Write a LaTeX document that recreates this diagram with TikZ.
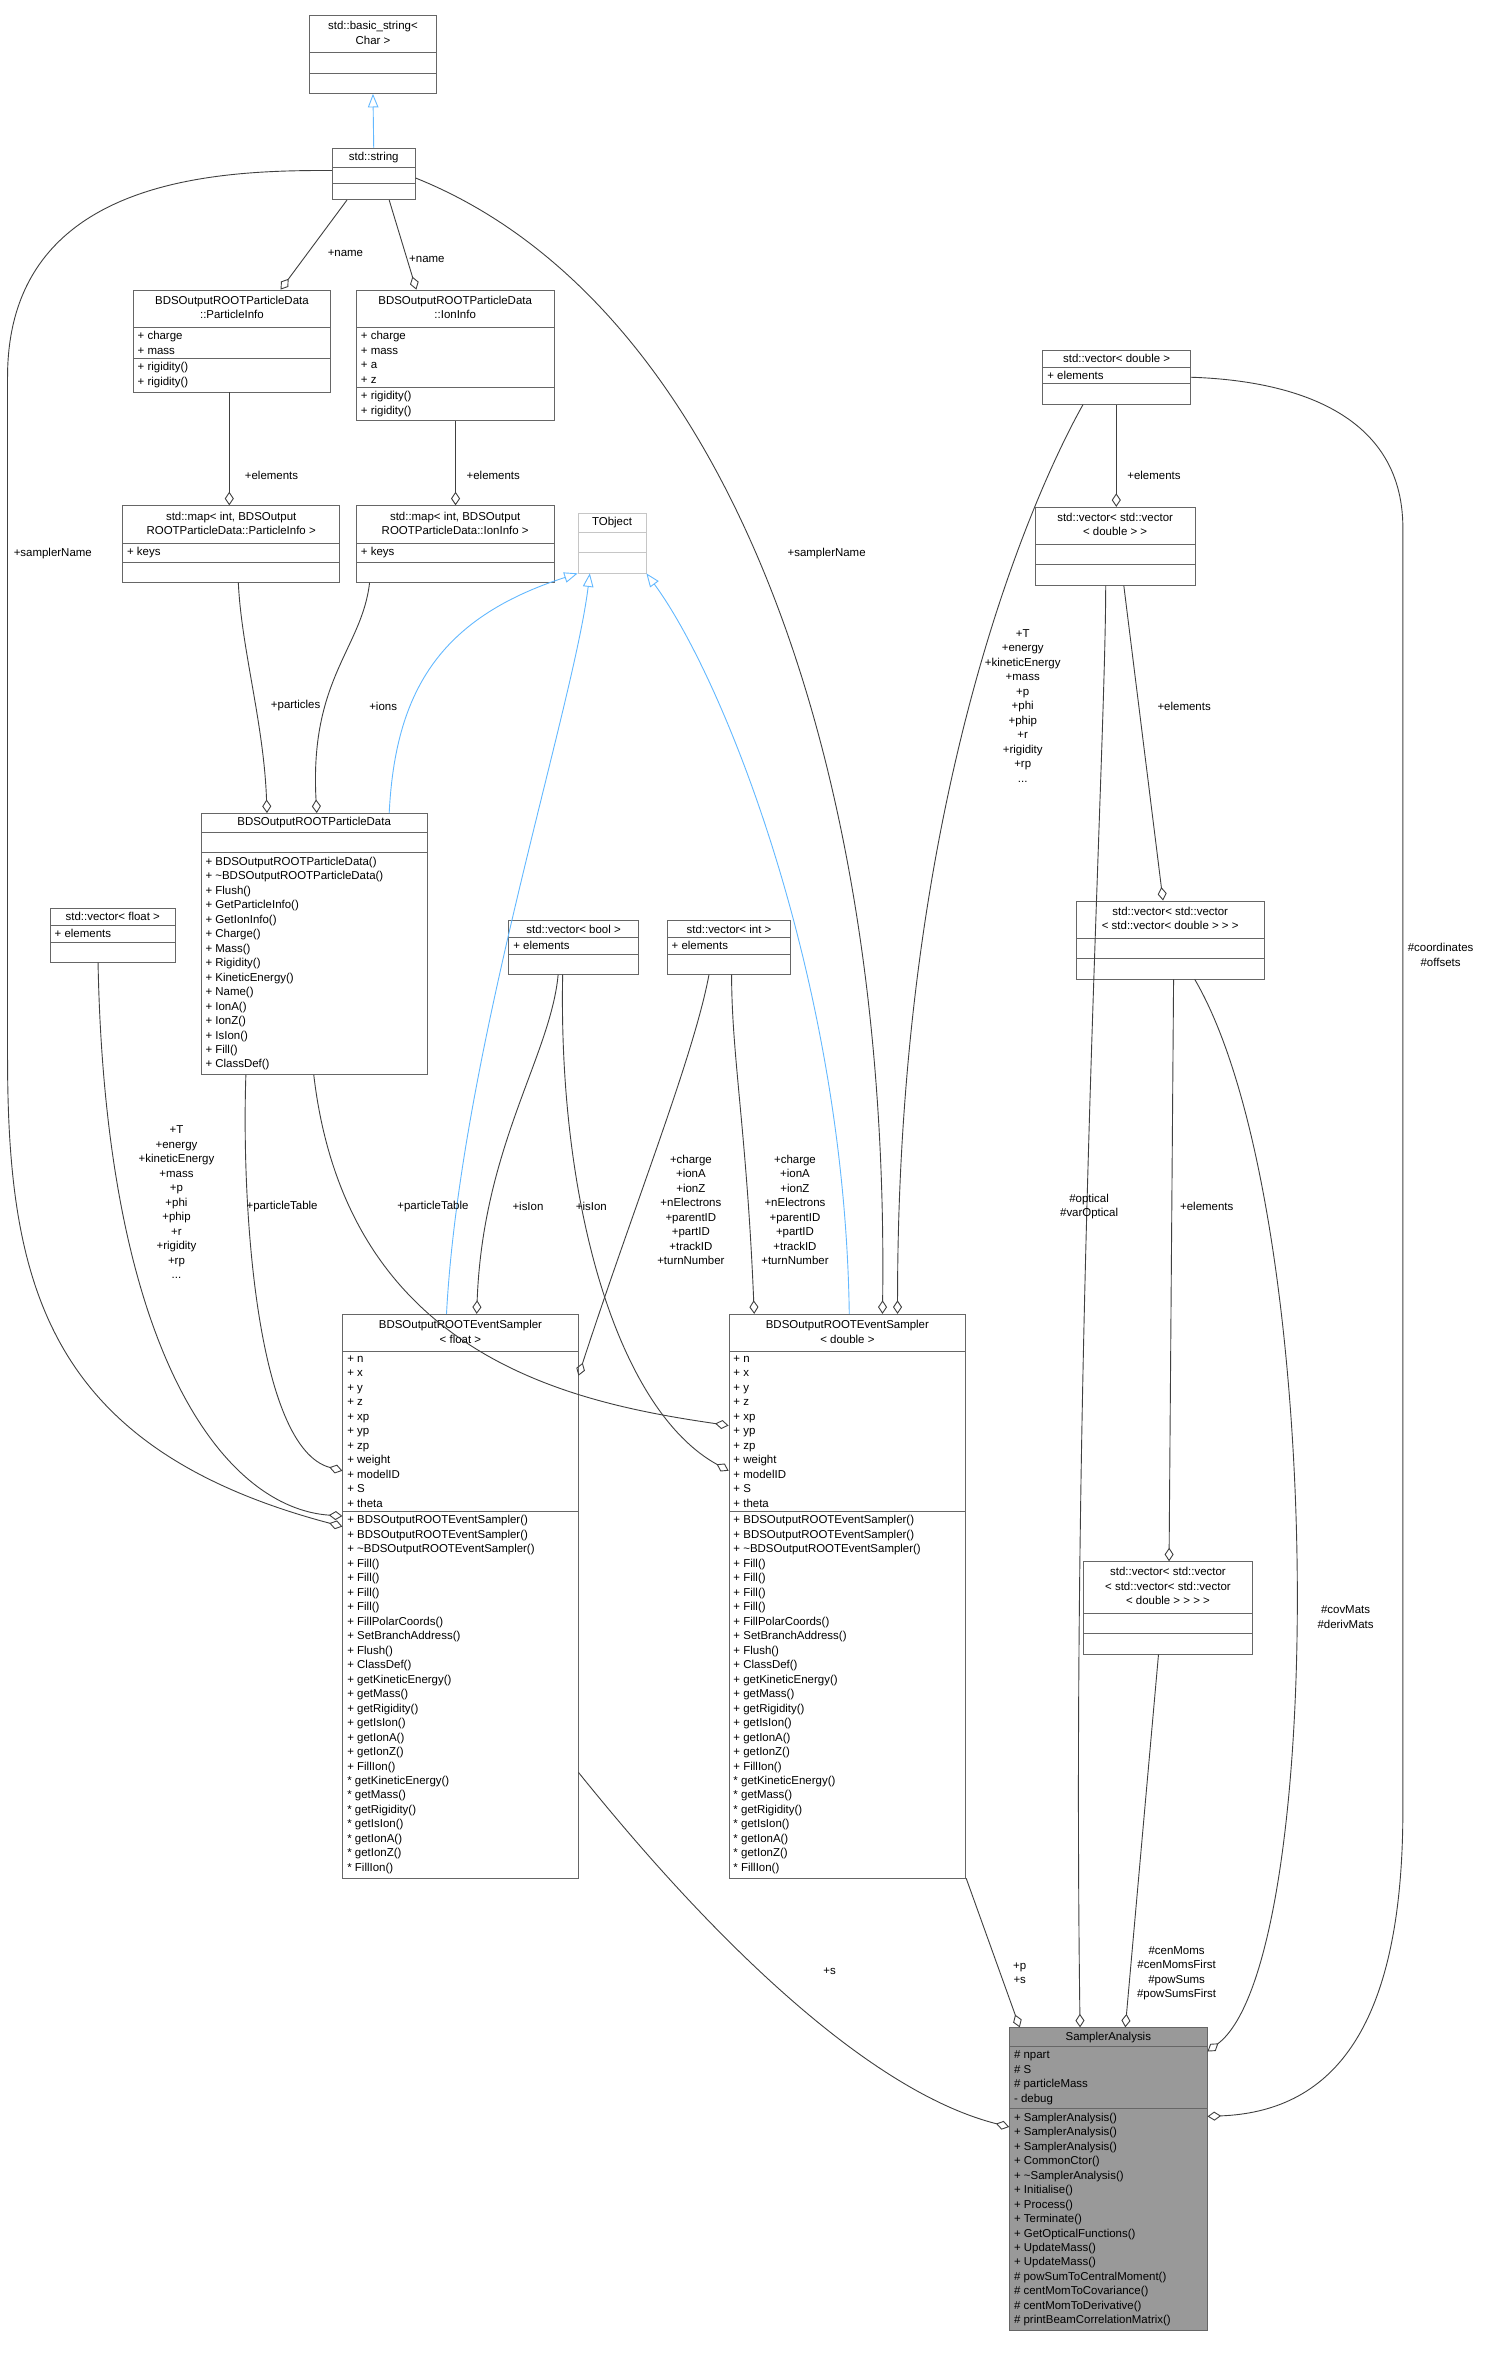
\documentclass[tikz,border=0pt]{standalone}
\usepackage{fontspec}
\setmainfont{Liberation Sans}
\usetikzlibrary{shapes.multipart,arrows.meta}
\definecolor{edgegray}{HTML}{404040}
\definecolor{boxgray}{HTML}{666666}
\definecolor{inhblue}{HTML}{63B8FF}
\newcommand{\ctitle}[1]{\begin{tabular}{@{}c@{}}#1\end{tabular}}
\newcommand{\emp}{\rule{0pt}{8pt}}
\tikzset{
	every node/.style = {font=\fontsize{7.6}{9.6}\selectfont},
	cls/.style = {draw=boxgray, rectangle split, rectangle split parts=3,
		rectangle split part align={center,left,left}, align=left,
		anchor=north west, inner xsep=3pt, inner ysep=2.5pt, line width=0.5pt},
	agg/.style = {draw=edgegray, line width=0.6pt, {Diamond[open,length=9pt,width=6pt]}-},
	inh/.style = {draw=inhblue, line width=0.6pt, -{Triangle[open,length=9pt,width=7pt]}},
	lbl/.style = {align=center, inner sep=1pt}
}
\begin{document}
\begin{tikzpicture}[x=1pt,y=-1pt]
		\useasboundingbox (0,0) rectangle (985,1566.5);
		% classes
		\node[cls, minimum width=84] (bstr) at (205,10) {\ctitle{std::basic\_string\textless{} \\ Char \textgreater{}} \nodepart{two}\emp \nodepart{three}\emp};
		\node[cls, minimum width=55] (str) at (220,98) {std::string \nodepart{two} \nodepart{three}};
		\node[cls, minimum width=131] (pinfo) at (88,192) {\ctitle{BDSOutputROOTParticleData\\::ParticleInfo}
			\nodepart{two}+ charge\\+ mass \nodepart{three}+ rigidity()\\+ rigidity()};
		\node[cls, minimum width=131] (iinfo) at (236,192) {\ctitle{BDSOutputROOTParticleData\\::IonInfo}
			\nodepart{two}+ charge\\+ mass\\+ a\\+ z \nodepart{three}+ rigidity()\\+ rigidity()};
		\node[cls, minimum width=144] (pmap) at (81,335) {\ctitle{std::map\textless{} int, BDSOutput\\ROOTParticleData::ParticleInfo \textgreater{}}
			\nodepart{two}+ keys \nodepart{three}\emp};
		\node[cls, minimum width=131] (imap) at (236,335) {\ctitle{std::map\textless{} int, BDSOutput\\ROOTParticleData::IonInfo \textgreater{}}
			\nodepart{two}+ keys \nodepart{three}\emp};
		\node[cls, draw=gray!45, minimum width=45] (tobj) at (383,340) {TObject \nodepart{two}\emp \nodepart{three}\emp};
		\node[cls, minimum width=150] (pdata) at (133,539) {BDSOutputROOTParticleData \nodepart{two}\emp
			\nodepart{three}+ BDSOutputROOTParticleData()\\+ \textasciitilde BDSOutputROOTParticleData()\\+ Flush()\\+ GetParticleInfo()\\+ GetIonInfo()\\+ Charge()\\+ Mass()\\+ Rigidity()\\+ KineticEnergy()\\+ Name()\\+ IonA()\\+ IonZ()\\+ IsIon()\\+ Fill()\\+ ClassDef()};
		\node[cls, minimum width=83] (vflt) at (33,602) {std::vector\textless{} float \textgreater{} \nodepart{two}+ elements \nodepart{three}\emp};
		\node[cls, minimum width=86] (vbool) at (337,610) {std::vector\textless{} bool \textgreater{} \nodepart{two}+ elements \nodepart{three}\emp};
		\node[cls, minimum width=82] (vint) at (442,610) {std::vector\textless{} int \textgreater{} \nodepart{two}+ elements \nodepart{three}\emp};
		\node[cls, minimum width=98] (vdbl) at (691,232) {std::vector\textless{} double \textgreater{} \nodepart{two}+ elements \nodepart{three}\emp};
		\node[cls, minimum width=106] (vvdbl) at (686,336) {\ctitle{std::vector\textless{} std::vector\\\textless{} double \textgreater{} \textgreater{}} \nodepart{two}\emp \nodepart{three}\emp};
		\node[cls, minimum width=125] (vvvdbl) at (713,597) {\ctitle{std::vector\textless{} std::vector\\\textless{} std::vector\textless{} double \textgreater{} \textgreater{} \textgreater{}} \nodepart{two}\emp \nodepart{three}\emp};
		\node[cls, minimum width=112] (vvvvdbl) at (718,1035) {\ctitle{std::vector\textless{} std::vector\\\textless{} std::vector\textless{} std::vector\\\textless{} double \textgreater{} \textgreater{} \textgreater{} \textgreater{}} \nodepart{two}\emp \nodepart{three}\emp};
		\node[cls, minimum width=156] (esf) at (227,871) {\ctitle{BDSOutputROOTEventSampler\\\textless{} float \textgreater{}}
			\nodepart{two}+ n\\+ x\\+ y\\+ z\\+ xp\\+ yp\\+ zp\\+ weight\\+ modelID\\+ S\\+ theta
			\nodepart{three}+ BDSOutputROOTEventSampler()\\+ BDSOutputROOTEventSampler()\\+ \textasciitilde BDSOutputROOTEventSampler()\\+ Fill()\\+ Fill()\\+ Fill()\\+ Fill()\\+ FillPolarCoords()\\+ SetBranchAddress()\\+ Flush()\\+ ClassDef()\\+ getKineticEnergy()\\+ getMass()\\+ getRigidity()\\+ getIsIon()\\+ getIonA()\\+ getIonZ()\\+ FillIon()\\* getKineticEnergy()\\* getMass()\\* getRigidity()\\* getIsIon()\\* getIonA()\\* getIonZ()\\* FillIon()};
		\node[cls, minimum width=157] (esd) at (483,871) {\ctitle{BDSOutputROOTEventSampler\\\textless{} double \textgreater{}}
			\nodepart{two}+ n\\+ x\\+ y\\+ z\\+ xp\\+ yp\\+ zp\\+ weight\\+ modelID\\+ S\\+ theta
			\nodepart{three}+ BDSOutputROOTEventSampler()\\+ BDSOutputROOTEventSampler()\\+ \textasciitilde BDSOutputROOTEventSampler()\\+ Fill()\\+ Fill()\\+ Fill()\\+ Fill()\\+ FillPolarCoords()\\+ SetBranchAddress()\\+ Flush()\\+ ClassDef()\\+ getKineticEnergy()\\+ getMass()\\+ getRigidity()\\+ getIsIon()\\+ getIonA()\\+ getIonZ()\\+ FillIon()\\* getKineticEnergy()\\* getMass()\\* getRigidity()\\* getIsIon()\\* getIonA()\\* getIonZ()\\* FillIon()};
		\node[cls, fill=gray!80, minimum width=131] (sana) at (669,1344) {SamplerAnalysis
			\nodepart{two}\# npart\\\# S\\\# particleMass\\- debug
			\nodepart{three}+ SamplerAnalysis()\\+ SamplerAnalysis()\\+ SamplerAnalysis()\\+ CommonCtor()\\+ \textasciitilde SamplerAnalysis()\\+ Initialise()\\+ Process()\\+ Terminate()\\+ GetOpticalFunctions()\\+ UpdateMass()\\+ UpdateMass()\\\# powSumToCentralMoment()\\\# centMomToCovariance()\\\# centMomToDerivative()\\\# printBeamCorrelationMatrix()};
		
		% inheritance
		\draw[inh] (str.north) -- (bstr.south);
		\draw[inh] ([xshift=125]pdata.north west) .. controls (262,460) and (290,410) .. (tobj.south west);
		\draw[inh] ([xshift=69]esf.north west) .. controls (305,700) and (380,470) .. ([xshift=8]tobj.south west);
		\draw[inh] ([xshift=80]esd.north west) .. controls (560,650) and (480,450) .. (tobj.south east);
		
		% aggregation
		\draw[agg] ([xshift=98]pinfo.north west) -- ([xshift=10]str.south west);
		\draw[agg] ([xshift=40]iinfo.north west) -- ([xshift=38]str.south west);
		\draw[agg] ([xshift=71]pmap.north west) -- ([xshift=64]pinfo.south west);
		\draw[agg] ([xshift=66]imap.north west) -- ([xshift=66]iinfo.south west);
		\draw[agg] ([xshift=44]pdata.north west) .. controls (175,480) and (160,430) .. ([xshift=77]pmap.south west);
		\draw[agg] ([xshift=77]pdata.north west) .. controls (205,450) and (240,430) .. ([xshift=9]imap.south west);
		\draw[agg] ([yshift=-141]esf.north west) .. controls (30,960) and (5,850) .. (5,700) -- (5,250) .. controls (5,115) and (150,113) .. ([yshift=-15]str.north west);
		\draw[agg] ([xshift=102]esd.north west) .. controls (590,500) and (480,200) .. ([yshift=-20]str.north east);
		\draw[agg] ([yshift=-134]esf.north west) .. controls (150,1000) and (70,900) .. ([xshift=32]vflt.south west);
		\draw[agg] ([yshift=-104]esf.north west) .. controls (170,960) and (160,800) .. ([xshift=30]pdata.south west);
		\draw[agg] ([yshift=-74]esd.north west) .. controls (380,930) and (230,900) .. ([xshift=75]pdata.south west);
		\draw[agg] ([xshift=89]esf.north west) .. controls (320,760) and (365,700) .. ([xshift=33]vbool.south west);
		\draw[agg] ([yshift=-104]esd.north west) .. controls (410,935) and (370,800) .. ([xshift=36]vbool.south west);
		\draw[agg] ([yshift=-41]esf.north east) .. controls (420,800) and (460,700) .. ([xshift=28]vint.south west);
		\draw[agg] ([xshift=17]esd.north west) .. controls (495,750) and (485,700) .. ([xshift=43]vint.south west);
		\draw[agg] ([xshift=112]esd.north west) .. controls (595,500) and (700,300) .. ([xshift=27]vdbl.south west);
		\draw[agg] ([xshift=54]vvdbl.north west) -- ([xshift=49]vdbl.south west);
		\draw[agg] ([yshift=-59]sana.north east) .. controls (880,1400) and (930,1350) .. (930,1200) -- (930,350) .. controls (930,270) and (850,252) .. (vdbl.east);
		\draw[agg] ([xshift=47]sana.north west) .. controls (710,900) and (733,500) .. ([xshift=47]vvdbl.south west);
		\draw[agg] ([xshift=58]vvvdbl.north west) -- ([xshift=59]vvdbl.south west);
		\draw[agg] ([xshift=57]vvvvdbl.north west) -- ([xshift=65]vvvdbl.south west);
		\draw[agg] ([yshift=-16]sana.north east) .. controls (880,1300) and (880,800) .. ([xshift=79]vvvdbl.south west);
		\draw[agg] ([xshift=77]sana.north west) -- ([xshift=50]vvvvdbl.south west);
		\draw[agg] ([yshift=-66]sana.north west) .. controls (550,1380) and (420,1220) .. ([yshift=-304]esf.north east);
		\draw[agg] ([xshift=7]sana.north west) -- (esd.south east);
		
		% labels
		\node[lbl] (lname1) at (229,168) {+name};
		\node[lbl] (lname2) at (283,172) {+name};
		\node[lbl] (lelem1) at (180,315) {+elements};
		\node[lbl] (lelem2) at (327,315) {+elements};
		\node[lbl] (lpart) at (196,468) {+particles};
		\node[lbl] (lions) at (254,468) {+ions};
		\node[lbl] (lsname1) at (35,367) {+samplerName};
		\node[lbl] (lsname2) at (548,367) {+samplerName};
		\node[lbl] (lflt) at (117,797) {+T\\+energy\\+kineticEnergy\\+mass\\+p\\+phi\\+phip\\+r\\+rigidity\\+rp\\...};
		\node[lbl] (lptab1) at (187,800) {+particleTable};
		\node[lbl] (lptab2) at (287,800) {+particleTable};
		\node[lbl] (lion1) at (350,800) {+isIon};
		\node[lbl] (lion2) at (392,800) {+isIon};
		\node[lbl] (lint1) at (458,802) {+charge\\+ionA\\+ionZ\\+nElectrons\\+parentID\\+partID\\+trackID\\+turnNumber};
		\node[lbl] (lint2) at (527,802) {+charge\\+ionA\\+ionZ\\+nElectrons\\+parentID\\+partID\\+trackID\\+turnNumber};
		\node[lbl] (ldbl) at (678,468) {+T\\+energy\\+kineticEnergy\\+mass\\+p\\+phi\\+phip\\+r\\+rigidity\\+rp\\...};
		\node[lbl] (lelem3) at (765,315) {+elements};
		\node[lbl] (lelem4) at (785,468) {+elements};
		\node[lbl] (lelem5) at (800,800) {+elements};
		\node[lbl] (lcoord) at (955,633) {\#coordinates\\\#offsets};
		\node[lbl] (lopt) at (722,800) {\#optical\\\#varOptical};
		\node[lbl] (lcov) at (892,1072) {\#covMats\\\#derivMats};
		\node[lbl] (lcen) at (780,1308) {\#cenMoms\\\#cenMomsFirst\\\#powSums\\\#powSumsFirst};
		\node[lbl] (ls) at (550,1307) {+s};
		\node[lbl] (lps) at (676,1308) {+p\\+s};
\end{tikzpicture}
\end{document}
